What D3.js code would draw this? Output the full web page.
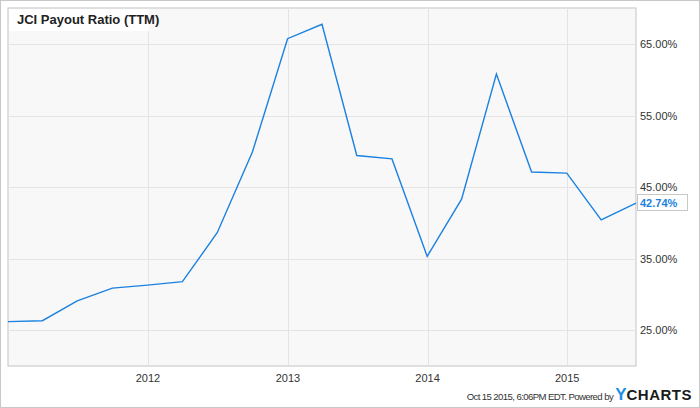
<!DOCTYPE html>
<html><head><meta charset="utf-8">
<script src="https://cdn.jsdelivr.net/npm/d3@7/dist/d3.min.js"></script>
<style>body{margin:0;background:#fff;}svg{display:block;font-family:"Liberation Sans",Arial,sans-serif;}</style>
</head><body><svg id="c" width="700" height="408"></svg>
<script>
const dates = ["2010-12-31","2011-03-31","2011-06-30","2011-09-30","2011-12-31","2012-03-31","2012-06-30","2012-09-30","2012-12-31","2013-03-31","2013-06-30","2013-09-30","2013-12-31","2014-03-31","2014-06-30","2014-09-30","2014-12-31","2015-03-31","2015-06-30"];
const payout = [26.17,26.3,29.08,30.86,31.28,31.76,38.6,49.9,65.74,67.76,49.4,48.93,35.3,43.3,60.8,47.1,46.94,40.4,42.74];
const yTicks = [25,35,45,55,65];
const xTickYears = [2012,2013,2014,2015];
const title = "JCI Payout Ratio (TTM)";
const footer = "Oct 15 2015, 6:06PM EDT. Powered by";

const svg = d3.select("#c");
const L=8,T=8,R=636,B=366;
const parse = d3.timeParse("%Y-%m-%d");
const data = dates.map((d,i)=>({d:parse(d),v:payout[i]}));
const x = d3.scaleTime().domain([data[0].d,data[data.length-1].d]).range([L,R]);
const y = d3.scaleLinear().domain([25,65]).range([330,44]);

svg.append("rect").attr("x",0.5).attr("y",0.5).attr("width",699).attr("height",407).attr("fill","#fff").attr("stroke","#c8c8c8");
svg.append("rect").attr("x",L).attr("y",T).attr("width",R-L).attr("height",B-T).attr("fill","#f8f8f8").attr("stroke","#c4c4c4");

const xt = xTickYears.map(yr=>new Date(yr,0,1));
svg.append("g").selectAll("line").data(yTicks).join("line")
  .attr("x1",L).attr("x2",R).attr("y1",d=>Math.round(y(d))+0.5).attr("y2",d=>Math.round(y(d))+0.5)
  .attr("stroke","#e4e4e4");
svg.append("g").selectAll("line").data(xt).join("line")
  .attr("x1",d=>Math.round(x(d))+0.5).attr("x2",d=>Math.round(x(d))+0.5).attr("y1",T).attr("y2",B)
  .attr("stroke","#e4e4e4");

// title box
svg.append("rect").attr("x",L+1).attr("y",T+1).attr("width",140).attr("height",22).attr("fill","#fff").attr("opacity",0.9);
svg.append("text").attr("x",17).attr("y",24).attr("font-size",13).attr("font-weight","bold").attr("fill","#222").text(title);

// axes labels
svg.append("g").selectAll("text").data(yTicks).join("text")
  .attr("x",640).attr("y",d=>y(d)+4).attr("font-size",11).attr("fill","#333").text(d=>d.toFixed(2)+"%");
svg.append("g").selectAll("text").data(xt).join("text")
  .attr("x",d=>x(d)).attr("y",382).attr("text-anchor","middle").attr("font-size",11).attr("fill","#333").text(d=>d.getFullYear());

// line
svg.append("path").datum(data).attr("fill","none").attr("stroke","#1b82e0").attr("stroke-width",1.4)
  .attr("d",d3.line().x(d=>x(d.d)).y(d=>y(d.v)));

// last value label
const last = data[data.length-1];
svg.append("rect").attr("x",637.5).attr("y",Math.round(y(last.v))-8.5).attr("width",50).attr("height",16).attr("fill","#fff").attr("stroke","#c8c8c8");
svg.append("text").attr("x",640).attr("y",y(last.v)+4).attr("font-size",11).attr("font-weight","bold").attr("fill","#1b82e0").text(last.v.toFixed(2)+"%");

// footer
const ft = svg.append("text").attr("x",692).attr("y",400).attr("text-anchor","end");
ft.append("tspan").attr("font-size",9.6).attr("fill","#333").attr("letter-spacing","-0.6").text(footer+" ");
ft.append("tspan").attr("font-size",17).attr("font-weight","bold").attr("fill","#1b8fe6").text("Y");
ft.append("tspan").attr("font-size",15).attr("font-weight","bold").attr("fill","#1a1a1a").attr("letter-spacing","0.5").text("CHARTS");
</script></body></html>
